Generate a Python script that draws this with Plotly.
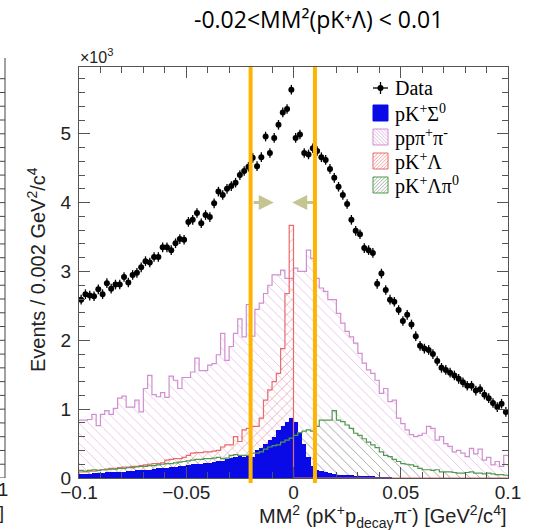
import numpy as np
import plotly.graph_objects as go

# ---------------- data (events per 0.002 GeV^2/c^4 bin, 100 bins from -0.1 to 0.1) -------------
bin_lo, bin_hi, n_bins = -0.1, 0.1, 100

data_counts = [
    2590, 2670, 2650, 2640, 2740, 2670, 2830, 2750, 2810, 2810,
    2920, 2840, 2950, 2980, 3060, 3150, 3130, 3210, 3210, 3350,
    3350, 3310, 3410, 3470, 3460, 3720, 3750, 3850, 3700, 3820,
    3790, 3990, 4160, 4110, 4200, 4240, 4290, 4400, 4460, 4520,
    4650, 4530, 4660, 4960, 4720, 4940, 5130, 5310, 5360, 5640,
    4940, 4990, 4720, 4700, 4790, 4750, 4660, 4620, 4490, 4360,
    4230, 4110, 3980, 3750, 3590, 3540, 3340, 3310, 3270, 2820,
    2970, 2730, 2590, 2560, 2440, 2280, 2370, 2230, 2060, 1920,
    1880, 1860, 1800, 1700, 1600, 1570, 1530, 1490, 1440, 1390,
    1340, 1340, 1270, 1290, 1210, 1160, 1090, 1030, 1080, 960,
]
data_err = 70

pp_pipi = [
    840, 840, 850, 925, 760, 925, 980, 925, 1010, 1160,
    1190, 1030, 1030, 1130, 960, 1300, 1490, 1210, 1180, 1240,
    1170, 1480, 1420, 1300, 1460, 1460, 1540, 1740, 1560, 1560,
    1640, 1660, 1790, 2100, 1710, 1910, 2100, 2310, 2050, 2520,
    2060, 2450, 2540, 2680, 2800, 2950, 2950, 3020, 2900, 2900,
    3050, 3000, 3000, 3310, 3190, 2900, 2760, 2710, 2590, 2590,
    2390, 2250, 2130, 2050, 1960, 1810, 1670, 1570, 1520, 1420,
    1230, 1300, 1110, 1130, 870, 790, 700, 630, 600, 620,
    650, 750, 720, 550, 600, 500, 460, 380, 400, 360,
    310, 430, 350, 420, 260, 300, 190, 240, 170, 330,
]

pK_Lambda = [
    90, 90, 100, 100, 110, 120, 130, 140, 140, 150,
    160, 160, 170, 170, 180, 190, 200, 210, 210, 220,
    260, 270, 280, 280, 300, 330, 360, 370, 370, 380,
    380, 390, 400, 450, 480, 480, 600, 530, 700, 720,
    750, 750, 870, 1130, 1280, 1400, 1520, 1880, 2680, 3670,
    0, 0, 0, 0, 0, 0, 0, 0, 0, 0,
    0, 0, 0, 0, 0, 0, 0, 0, 0, 0,
    0, 0, 0, 0, 0, 0, 0, 0, 0, 0,
    0, 0, 0, 0, 0, 0, 0, 0, 0, 0,
    0, 0, 0, 0, 0, 0, 0, 0, 0, 0,
]

pK_Lambda_pi0 = [
    110, 100, 110, 120, 110, 120, 120, 130, 130, 140,
    140, 150, 150, 160, 170, 170, 180, 180, 190, 200,
    210, 210, 220, 230, 240, 250, 260, 270, 270, 280,
    280, 290, 300, 280, 290, 330, 340, 330, 330, 330,
    360, 360, 380, 420, 450, 470, 480, 520, 550, 580,
    620, 660, 680, 700, 680, 750, 840, 840, 840, 980,
    840, 820, 770, 720, 650, 620, 570, 520, 480, 440,
    380, 330, 310, 270, 240, 210, 200, 190, 170, 140,
    120, 120, 110, 120, 90, 90, 90, 80, 70, 70,
    80, 90, 70, 70, 60, 70, 60, 50, 50, 40,
]

pK_Sigma0 = [
    60, 60, 60, 70, 70, 70, 80, 80, 80, 90,
    90, 100, 100, 110, 110, 120, 120, 130, 140, 140,
    150, 160, 160, 170, 180, 190, 200, 200, 210, 220,
    220, 230, 240, 250, 270, 290, 300, 320, 300, 320,
    310, 400, 430, 500, 550, 600, 700, 750, 820, 870,
    820, 650, 500, 310, 180, 120, 100, 80, 70, 60,
    50, 50, 40, 40, 30, 30, 20, 20, 20, 10,
    10, 10, 10, 0, 0, 0, 0, 0, 0, 0,
    0, 0, 0, 0, 0, 0, 0, 0, 0, 0,
    0, 0, 0, 0, 0, 0, 0, 0, 0, 0,
]

legend_labels = [
    "Data",
    "pK<sup>+</sup>\u03a3<sup>0</sup>",
    "pp\u03c0<sup>+</sup>\u03c0<sup>-</sup>",
    "pK<sup>+</sup>\u039b",
    "pK<sup>+</sup>\u039b\u03c0<sup>0</sup>",
]

x_ticks = [-0.1, -0.05, 0, 0.05, 0.1]
x_ticktext = ["\u22120.1", "\u22120.05", "0", "0.05", "0.1"]
y_ticks = [0, 1000, 2000, 3000, 4000, 5000]
y_ticktext = ["0", "1", "2", "3", "4", "5"]
cut_lo, cut_hi = -0.02, 0.01

# ---------------- derived binning ----------------
edges = np.linspace(bin_lo, bin_hi, n_bins + 1)
centers = 0.5 * (edges[:-1] + edges[1:])
bw = edges[1] - edges[0]

AX_FONT = "Liberation Sans, Arial, Helvetica, sans-serif"
LEG_FONT = "Liberation Serif, Times New Roman, serif"

fig = go.Figure()

def hist_fill(vals, shape, fg, solid=False):
    if solid:
        marker = dict(color=fg, line=dict(width=0))
    else:
        marker = dict(color="rgba(0,0,0,0)", line=dict(width=0),
                      pattern=dict(shape=shape, fgcolor=fg, bgcolor="rgba(0,0,0,0)",
                                   fillmode="replace", size=7, solidity=0.12))
    fig.add_trace(go.Bar(x=centers, y=vals, width=bw, marker=marker,
                         showlegend=False, hoverinfo="skip"))

def hist_line(vals, color, width=1.2):
    fig.add_trace(go.Scatter(x=edges, y=list(vals) + [vals[-1]], mode="lines",
                             line=dict(color=color, width=width, shape="hv"),
                             showlegend=False, hoverinfo="skip"))

PINK, PINK_H = "#cf8fcf", "#e6bde6"
RED, RED_H = "#e96a6a", "#f2a3a3"
GREEN, GREEN_H = "#4f9a4f", "#a8b4a8"
BLUE = "#0a0ae6"

hist_fill(pp_pipi, "\\", PINK_H)
hist_fill(pK_Lambda, "/", RED_H)
hist_fill(pK_Lambda_pi0, "\\", GREEN_H)
hist_line(pp_pipi, PINK)
hist_line(pK_Lambda, RED)
hist_fill(pK_Sigma0, "", BLUE, solid=True)
hist_line(pK_Lambda_pi0, GREEN)

# data points
fig.add_trace(go.Scatter(x=centers, y=data_counts, mode="markers",
                         marker=dict(color="black", size=6),
                         error_y=dict(type="constant", value=data_err, color="black",
                                      thickness=1.3, width=0),
                         name="Data", showlegend=False, hoverinfo="skip"))

# cut lines
for xc in (cut_lo, cut_hi):
    fig.add_shape(type="line", xref="x", yref="paper", x0=xc, x1=xc, y0=-0.012, y1=1.0,
                  line=dict(color="#FFB400", width=4), layer="above")

# arrows toward the selected window
ARROW = "#c4c592"
fig.add_annotation(x=-0.0092, y=4000, ax=-0.0193, ay=4000, xref="x", yref="y",
                   axref="x", ayref="y", showarrow=True, arrowhead=2, arrowsize=1,
                   arrowwidth=3, arrowcolor=ARROW, text="")
fig.add_annotation(x=-0.0006, y=4000, ax=0.0098, ay=4000, xref="x", yref="y",
                   axref="x", ayref="y", showarrow=True, arrowhead=2, arrowsize=1,
                   arrowwidth=3, arrowcolor=ARROW, text="")

# ---- helpers: pixel -> paper ----
def px_x(px):
    return (px - 79) / 429.0

def px_y(py):
    return (478 - py) / 411.0

def pline(xa, ya, xb, yb, color, width=1):
    fig.add_shape(type="line", xref="paper", yref="paper", x0=px_x(xa), y0=px_y(ya),
                  x1=px_x(xb), y1=px_y(yb), line=dict(color=color, width=width))

def hatch_box(x0, x1, y0, y1, direction, hcolor, bcolor, step=3.5):
    # hatch lines inside a pixel box
    c_min, c_max = (x0 + y0, x1 + y1) if direction == "/" else (x0 - y1, x1 - y0)
    c = c_min + step / 2
    while c < c_max:
        if direction == "/":      # x + y = c  (screen y downward)
            xa, xb = max(x0, c - y1), min(x1, c - y0)
            if xb > xa:
                pline(xa, c - xa, xb, c - xb, hcolor, 1)
        else:                      # x - y = c
            xa, xb = max(x0, c + y0), min(x1, c + y1)
            if xb > xa:
                pline(xa, xa - c, xb, xb - c, hcolor, 1)
        c += step
    fig.add_shape(type="rect", xref="paper", yref="paper", x0=px_x(x0), x1=px_x(x1),
                  y0=px_y(y1), y1=px_y(y0), line=dict(color=bcolor, width=1),
                  fillcolor="rgba(0,0,0,0)")

# ---- manual ROOT-style legend ----
leg_rows = [88, 113, 137, 161, 185]
bx0, bx1 = 373, 388
for i, (lab, yc) in enumerate(zip(legend_labels, leg_rows)):
    fig.add_annotation(text=lab, x=px_x(393), y=px_y(yc), xref="paper", yref="paper",
                       showarrow=False, xanchor="left", yanchor="middle",
                       font=dict(family=LEG_FONT, size=20, color="black"))
# data symbol
pline(bx0, leg_rows[0], bx1, leg_rows[0], "black", 1.3)
pline(380.5, leg_rows[0] - 6, 380.5, leg_rows[0] + 6, "black", 1.3)
fig.add_shape(type="circle", xref="paper", yref="paper", x0=px_x(377.5), x1=px_x(383.5),
              y0=px_y(leg_rows[0] + 3), y1=px_y(leg_rows[0] - 3),
              fillcolor="black", line=dict(color="black", width=0))
# pK+Sigma0 solid box
fig.add_shape(type="rect", xref="paper", yref="paper", x0=px_x(bx0), x1=px_x(bx1),
              y0=px_y(leg_rows[1] + 8), y1=px_y(leg_rows[1] - 8),
              fillcolor=BLUE, line=dict(color=BLUE, width=1))
hatch_box(bx0, bx1, leg_rows[2] - 8, leg_rows[2] + 8, "\\", PINK_H, PINK)
hatch_box(bx0, bx1, leg_rows[3] - 8, leg_rows[3] + 8, "/", RED_H, RED)
hatch_box(bx0, bx1, leg_rows[4] - 8, leg_rows[4] + 8, "/", GREEN_H, GREEN)

# ---- text ----
fig.add_annotation(text="-0.02<MM\u00b2(pK\u207a\u039b) < 0.01", x=px_x(318), y=px_y(19),
                   xref="paper", yref="paper", showarrow=False, xanchor="center",
                   yanchor="middle", font=dict(family="Open Sans, Lato, sans-serif",
                                               size=23, color="black"))
fig.add_annotation(text="\u00d710<sup>3</sup>", x=px_x(78), y=px_y(56), xref="paper",
                   yref="paper", showarrow=False, xanchor="left", yanchor="middle",
                   font=dict(family=AX_FONT, size=16, color="#222"))
fig.add_annotation(text="Events / 0.002 GeV<sup>2</sup>/c<sup>4</sup>", textangle=-90,
                   x=px_x(36), y=px_y(270), xref="paper", yref="paper", showarrow=False,
                   xanchor="center", yanchor="middle",
                   font=dict(family=AX_FONT, size=20, color="#222"))
fig.add_annotation(text="MM<sup>2</sup> (pK<sup>+</sup>p<sub>decay</sub>\u03c0<sup>-</sup>) [GeV<sup>2</sup>/c<sup>4</sup>]",
                   x=1.0, y=px_y(516), xref="paper", yref="paper", showarrow=False,
                   xanchor="right", yanchor="middle",
                   font=dict(family=AX_FONT, size=20, color="#222"))

# neighbouring (cut-off) panel edge on the far left
fx = px_x(5)
fig.add_shape(type="line", xref="paper", yref="paper", x0=fx, x1=fx, y0=0, y1=px_y(58),
              line=dict(color="#444", width=1))
for k in range(0, 31):
    yy = k * 200
    if yy > 5970:
        break
    ln = 9 if k % 5 == 0 else 5
    fig.add_shape(type="line", xref="paper", yref="y", x0=fx, x1=px_x(5 - ln), y0=yy, y1=yy,
                  line=dict(color="#444", width=1))
fig.add_annotation(text="0.1", x=px_x(10), y=px_y(489), xref="paper", yref="paper",
                   showarrow=False, xanchor="right", yanchor="middle",
                   font=dict(family=AX_FONT, size=19, color="#222"))
fig.add_annotation(text="c<sup>4</sup>]", x=px_x(6), y=px_y(511), xref="paper", yref="paper",
                   showarrow=False, xanchor="right", yanchor="middle",
                   font=dict(family=AX_FONT, size=18, color="#222"))

axis_common = dict(showline=True, linecolor="#555", linewidth=1, mirror="ticks",
                   ticks="inside", ticklen=11, tickcolor="#555", showgrid=False,
                   zeroline=False, tickfont=dict(family=AX_FONT, size=19, color="#222"))

fig.update_layout(
    width=538, height=530,
    margin=dict(l=79, r=30, t=67, b=52),
    paper_bgcolor="white", plot_bgcolor="white",
    barmode="overlay", bargap=0,
    xaxis=dict(range=[bin_lo, bin_hi], tickmode="array", tickvals=x_ticks,
               ticktext=x_ticktext, ticklabelstandoff=-3,
               minor=dict(tickmode="linear", tick0=-0.1, dtick=0.01, ticks="inside",
                          ticklen=6, tickcolor="#555"),
               **axis_common),
    yaxis=dict(range=[0, 5970], tickmode="array", tickvals=y_ticks, ticktext=y_ticktext,
               ticklabelstandoff=3,
               minor=dict(tickmode="linear", tick0=0, dtick=200, ticks="inside",
                          ticklen=6, tickcolor="#555"),
               **axis_common),
    showlegend=False,
)

fig.write_html("out.html")
